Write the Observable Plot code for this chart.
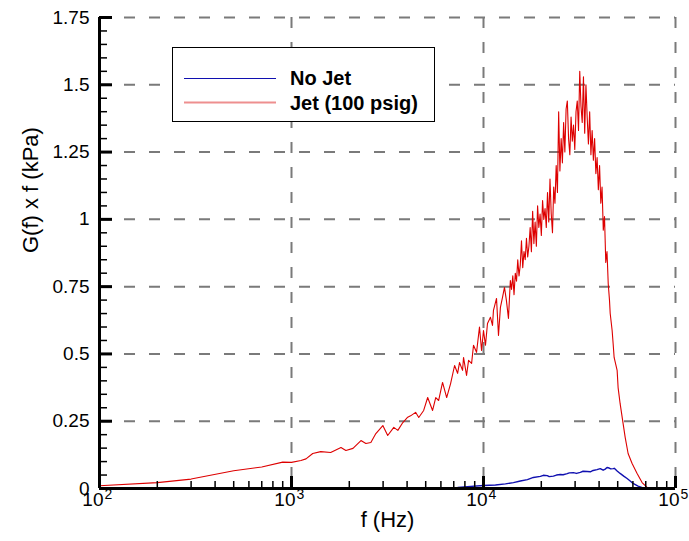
<!DOCTYPE html>
<html><head><meta charset="utf-8">
<script src="https://cdn.jsdelivr.net/npm/d3@7"></script>
<script src="https://cdn.jsdelivr.net/npm/@observablehq/plot@0.6"></script>
<style>
html,body{margin:0;padding:0;background:#fff;}
#wrap{position:relative;width:689px;height:541px;overflow:hidden;}
#legend{position:absolute;left:172px;top:47px;}
</style></head>
<body><div id="wrap"></div>
<script>
// ---- data ----
const seriesNames = ["No Jet", "Jet (100 psig)"];
const seriesColors = ["#1010b0", "#dd0000"];

// No Jet: [frequency Hz, G(f) x f kPa]
const noJet = [
  [2810,0],[2920,0.002],[4710,0.003],[7330,0.004],[10000,0.011],[11540,0.013],[13010,0.017],
  [14320,0.022],[15560,0.028],[16930,0.033],[18190,0.041],[19780,0.045],[20500,0.049],[21480,0.048],
  [22000,0.044],[23120,0.046],[24000,0.05],[25120,0.052],[26000,0.051],[27290,0.055],[28000,0.058],
  [29380,0.059],[30500,0.056],[31920,0.06],[33000,0.064],[34670,0.063],[36000,0.062],[37240,0.067],
  [39000,0.07],[40550,0.074],[42000,0.068],[43050,0.072],[44000,0.078],[45140,0.076],[46000,0.073],
  [47330,0.074],[48000,0.075],[49660,0.065],[51460,0.056],[53960,0.045],[55970,0.037],[58070,0.028],
  [60100,0.019],[63830,0.009],[67760,0.002],[71800,0]
];

// Jet (100 psig): [frequency Hz, G(f) x f kPa]
const jet = [
  [100,0.01],[200,0.022],[300,0.035],[500,0.066],[700,0.08],[900,0.098],[1000,0.097],[1120,0.104],
  [1190,0.11],[1290,0.13],[1420,0.137],[1600,0.134],[1810,0.152],[1920,0.141],[2090,0.149],[2300,0.178],
  [2440,0.167],[2590,0.171],[2750,0.204],[2990,0.234],[3170,0.197],[3410,0.227],[3580,0.216],[3800,0.245],
  [4030,0.265],[4170,0.27],[4430,0.283],[4600,0.264],[4880,0.29],[5120,0.338],[5430,0.29],[5640,0.338],
  [5840,0.327],[6120,0.394],[6430,0.338],[6740,0.39],[7070,0.457],[7330,0.428],[7500,0.468],[7780,0.439],
  [7870,0.487],[8160,0.42],[8360,0.476],[8670,0.465],[8870,0.532],[9200,0.506],[9530,0.6],[9770,0.513],
  [10000,0.587],[10240,0.532],[10490,0.613],[10870,0.636],[11140,0.606],[11270,0.662],[11690,0.706],
  [11970,0.569],[12250,0.673],[12560,0.71],[12860,0.747],[13160,0.699],[13490,0.632],[13800,0.773],
  [14000,0.74],[14210,0.79],[14420,0.72],[14640,0.8],[14860,0.77],[15080,0.85],[15310,0.79],[15540,0.83],
  [15770,0.92],[16010,0.82],[16250,0.88],[16490,0.85],[16740,0.93],[16990,0.86],[17240,0.9],[17500,0.97],
  [17760,0.88],[18030,1.03],[18300,0.91],[18570,0.99],[18850,0.9],[19130,1.05],[19420,0.97],[19710,1.02],
  [20010,0.94],[20310,1.07],[20610,1.0],[20920,1.04],[21230,0.97],[21550,1.1],[21870,0.99],[22200,1.15],
  [22530,1.02],[22870,0.95],[23210,1.12],[23560,1.06],[23910,1.2],[24270,1.1],[24630,1.4],[25000,1.18],
  [25380,1.3],[25760,1.21],[26140,1.36],[26530,1.25],[26930,1.41],[27330,1.44],[27740,1.3],[28160,1.24],
  [28580,1.38],[29010,1.29],[29440,1.35],[29880,1.26],[30330,1.4],[30790,1.44],[31250,1.33],[31720,1.55],
  [32190,1.42],[32670,1.36],[33160,1.53],[33660,1.32],[34160,1.5],[34670,1.38],[35190,1.28],[35720,1.4],
  [36260,1.24],[36800,1.33],[37350,1.22],[37910,1.3],[38480,1.17],[39060,1.23],[39640,1.11],[40230,1.2],
  [40830,1.06],[41440,1.12],[42060,0.96],[42690,1.01],[43330,0.84],[43980,0.88],[44640,0.76],[45310,0.7],
  [45700,0.65],[46770,0.587],[47330,0.539],[47900,0.487],[49660,0.439],
  [50240,0.375],[51460,0.316],[53330,0.242],[54690,0.19],[56640,0.13],[59430,0.093],[63100,0.056],
  [66990,0.022],[71120,0.004],[75510,0]
];

const yTicks = [0,0.25,0.5,0.75,1,1.25,1.5,1.75];
const yTickLabels = ["0","0.25","0.5","0.75","1","1.25","1.5","1.75"];
const yMinor = [0.05,0.1,0.15,0.2,0.3,0.35,0.4,0.45,0.55,0.6,0.65,0.7,0.8,0.85,0.9,0.95,
                1.05,1.1,1.15,1.2,1.3,1.35,1.4,1.45,1.55,1.6,1.65,1.7];
const xMajor = [100,1000,10000,100000];
const xTickBase = ["10","10","10","10"];
const xTickExp = ["2","3","4","5"];
const xMinor = [200,300,400,500,600,700,800,900,2000,3000,4000,5000,6000,7000,8000,9000,
                20000,30000,40000,50000,60000,70000,80000,90000];
const xGrid = [1000,10000,100000];
const yGrid = [0.25,0.5,0.75,1,1.25,1.5,1.75];
const xTitle = "f (Hz)";
const yTitle = "G(f) x f (kPa)";

// ---- chart ----
const W = 689, H = 541, mL = 99, mR = 14, mT = 17, mB = 53;
const plotW = W - mL - mR, plotH = H - mT - mB;
const font = "'Liberation Sans', Arial, Helvetica, sans-serif";
const yLab = new Map(yTicks.map((d, i) => [d, yTickLabels[i]]));
const xBase = new Map(xMajor.map((d, i) => [d, xTickBase[i]]));
const xExp = new Map(xMajor.map((d, i) => [d, xTickExp[i]]));

const chart = Plot.plot({
  width: W, height: H,
  marginLeft: mL, marginRight: mR, marginTop: mT, marginBottom: mB,
  style: {fontFamily: font, background: "#fff", color: "#000", overflow: "visible"},
  x: {type: "log", domain: [100, 100000], axis: null},
  y: {domain: [0, 1.75], axis: null},
  marks: [
    Plot.ruleY(yGrid, {y: d => d, stroke: "#7a7a7a", strokeWidth: 2, strokeDasharray: "11,14"}),
    Plot.ruleX(xGrid, {x: d => d, stroke: "#7a7a7a", strokeWidth: 2, strokeDasharray: "11,14"}),
    Plot.line(noJet, {x: d => d[0], y: d => d[1], stroke: seriesColors[0], strokeWidth: 1.4}),
    Plot.line(jet, {x: d => d[0], y: d => d[1], stroke: seriesColors[1], strokeWidth: 1.1}),
    // minor & major ticks (inward)
    Plot.ruleY(yMinor, {y: d => d, stroke: "#000", strokeWidth: 1.5, insetRight: plotW - 8}),
    Plot.ruleY(yTicks, {y: d => d, stroke: "#000", strokeWidth: 3, insetRight: plotW - 13}),
    Plot.ruleX(xMinor, {x: d => d, stroke: "#000", strokeWidth: 1.5, insetTop: plotH - 7}),
    Plot.ruleX(xMajor, {x: d => d, stroke: "#000", strokeWidth: 3, insetTop: plotH - 12}),
    // axis lines
    Plot.ruleX([100], {x: d => d, stroke: "#000", strokeWidth: 3}),
    Plot.ruleY([0], {y: d => d, stroke: "#000", strokeWidth: 3}),
    // y tick labels
    Plot.axisY(yTicks, {tickSize: 0, tickPadding: 10, tickFormat: d => yLab.get(d), fontSize: 19, label: null}),
    // x tick labels 10^n
    Plot.text(xMajor, {x: d => d, text: d => xBase.get(d), frameAnchor: "bottom", textAnchor: "end",
      dx: 4, dy: 17, fontSize: 19, fill: "#000"}),
    Plot.text(xMajor, {x: d => d, text: d => xExp.get(d), frameAnchor: "bottom", textAnchor: "start",
      dx: 5, dy: 10, fontSize: 14, fill: "#000"}),
    // axis titles
    Plot.text([xTitle], {frameAnchor: "bottom", dy: 38, fontSize: 22, fill: "#000"}),
    Plot.text([yTitle], {frameAnchor: "left", rotate: -90, dx: -69, fontSize: 22, fill: "#000"})
  ]
});
const wrap = document.getElementById("wrap");
wrap.appendChild(chart);

// legend
const lg = d3.select(wrap).append("svg").attr("id", "legend")
  .attr("width", 264).attr("height", 76)
  .style("font-family", font);
lg.append("rect").attr("x", 0.5).attr("y", 0.5).attr("width", 262).attr("height", 74)
  .attr("fill", "#fff").attr("stroke", "#000").attr("stroke-width", 1);
const rows = [31.5, 55.5], base = [38, 63];
seriesNames.forEach((n, i) => {
  lg.append("line").attr("x1", 12).attr("x2", 104).attr("y1", rows[i]).attr("y2", rows[i])
    .attr("stroke", i === 0 ? seriesColors[0] : "#ee8f8f").attr("stroke-width", i === 0 ? 1.2 : 2);
  lg.append("text").attr("x", 118).attr("y", base[i]).attr("font-size", 20)
    .attr("font-weight", "bold").attr("fill", "#000").text(n);
});
</script>
</body></html>
